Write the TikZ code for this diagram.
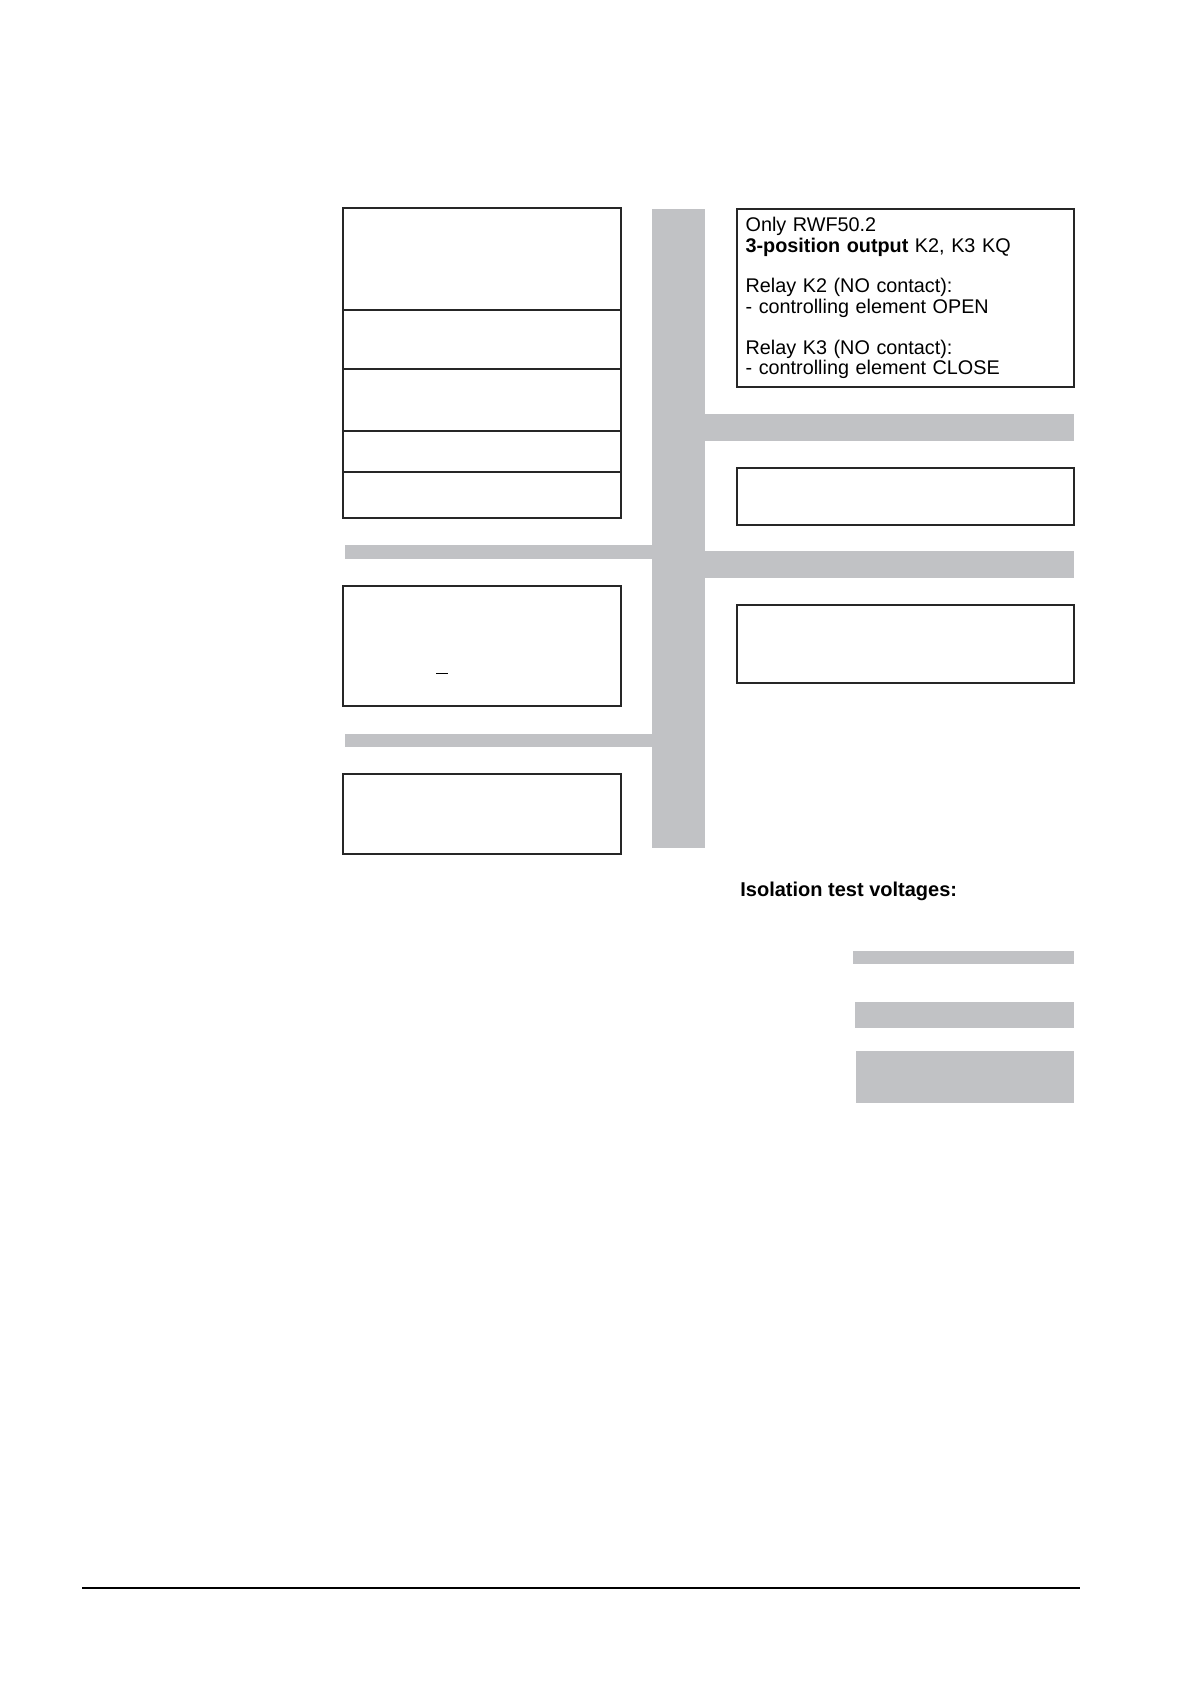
\documentclass[tikz,border=0pt]{standalone}
\usepackage{fontspec}
\setmainfont{Liberation Sans}
\usetikzlibrary{positioning}
\definecolor{busgray}{RGB}{193,194,197}
\definecolor{boxline}{RGB}{38,38,38}

\begin{document}
\begin{tikzpicture}[x=0.5pt,y=-0.5pt,node distance=0pt,
        panel/.style={rectangle,draw=boxline,line width=1pt,inner sep=0pt,
          outer sep=0pt,minimum width=139.2pt},
        wide/.style={panel,minimum width=168.5pt},
        bus/.style={fill=busgray}]
  \useasboundingbox (0,0) rectangle (1190,1684);

  % bus bars
  \fill[bus] (652,209) rectangle (705,848);
  \fill[bus] (705,414) rectangle (1074,441);
  \fill[bus] (705,551) rectangle (1074,578);
  \fill[bus] (345,545) rectangle (652,559);
  \fill[bus] (345,734) rectangle (652,747);

  % left side
  \node[panel,anchor=north west,minimum height=50.8pt] (in1) at (343,208) {};
  \node[panel,minimum height=29.85pt] (in2) [below=of in1] {};
  \node[panel,minimum height=30.85pt] (in3) [below=of in2] {};
  \node[panel,minimum height=20.65pt] (in4) [below=of in3] {};
  \node[panel,minimum height=22.65pt] (in5) [below=of in4] {};
  \node[panel,minimum height=60pt] (aux) [below=34.2pt of in5] {};
  \node[panel,minimum height=39.85pt] (pwr) [below=34.15pt of aux] {};
  \draw[line width=0.5pt] (436,673) -- (448,673);

  % right side
  \node[wide,anchor=north west,minimum height=89pt,text width=159.9pt,
        inner xsep=4.3pt,align=left,font=\fontsize{9.9}{10.2}\selectfont]
        (out1) at (737,209) {Only RWF50.2\\
        \textbf{3-position output} K2, K3 KQ\\[10.2pt]
        Relay K2 (NO contact):\\
        - controlling element OPEN\\[10.2pt]
        Relay K3 (NO contact):\\
        - controlling element CLOSE};
  \node[wide,minimum height=28.5pt] (out2) [below=40.5pt of out1] {};
  \node[wide,minimum height=39pt] (out3) [below=40.2pt of out2] {};

  % isolation test voltages
  \node[anchor=base west,inner sep=0pt,font=\bfseries\fontsize{10}{12}\selectfont]
        (iso) at (740,896) {Isolation test voltages:};
  \fill[bus] (853,951) rectangle (1074,964);
  \fill[bus] (855,1002) rectangle (1074,1028);
  \fill[bus] (856,1051) rectangle (1074,1103);

  \draw[line width=0.6pt] (82,1588) -- (1080,1588);
\end{tikzpicture}
\end{document}
